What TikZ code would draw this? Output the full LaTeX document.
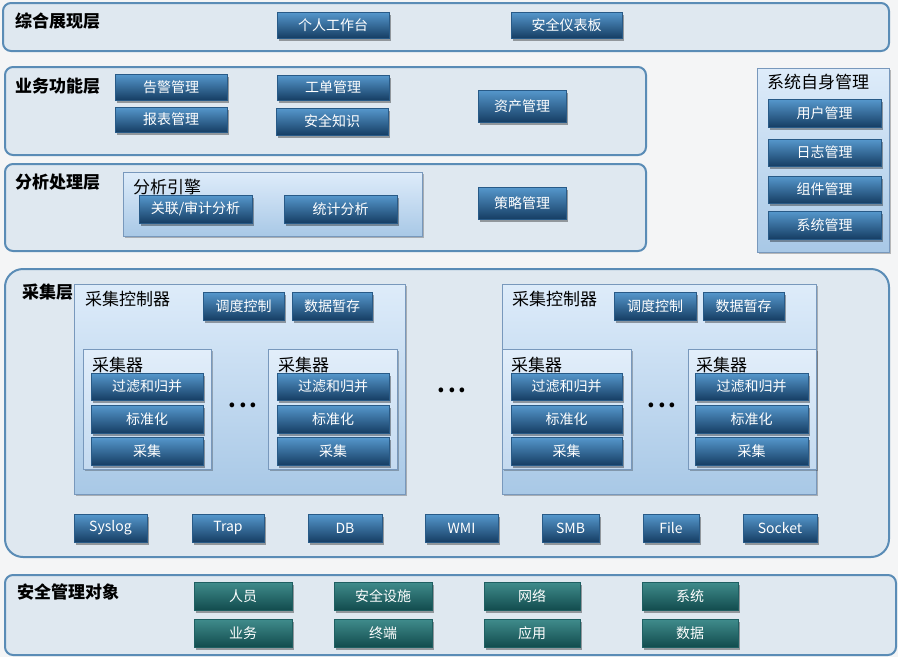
\documentclass[tikz,border=0pt]{standalone}
\usepackage{fontspec}
\setmainfont{Noto Sans CJK SC}
\usetikzlibrary{shadows}
\definecolor{bgc}{RGB}{244,245,246}
\definecolor{btntop}{RGB}{86,152,205}
\definecolor{btnbot}{RGB}{22,62,100}
\definecolor{btnedge}{RGB}{40,90,135}
\definecolor{teltop}{RGB}{64,140,140}
\definecolor{telbot}{RGB}{18,76,78}
\definecolor{teledge}{RGB}{30,95,98}
\definecolor{layerfill}{RGB}{223,232,240}
\definecolor{layeredge}{RGB}{90,140,182}
\definecolor{ctrtop}{RGB}{222,236,250}
\definecolor{ctrbot}{RGB}{168,200,230}
\definecolor{ctredge}{RGB}{120,152,188}
\definecolor{coltop}{RGB}{226,238,250}
\definecolor{colbot}{RGB}{196,218,240}
\newcommand\mkbox[7]{%
  \pgfmathsetmacro\mkcx{(#3+#5)/2}%
  \pgfmathsetmacro\mkcy{(#4+#6)/2}%
  \pgfmathsetmacro\mkww{#5-#3}%
  \pgfmathsetmacro\mkhh{#6-#4}%
  \node[#1, minimum width=\mkww pt, minimum height=\mkhh pt] (#2) at (\mkcx,\mkcy) {#7};}
\tikzset{
  base/.style={rectangle, inner sep=0pt, outer sep=0pt},
  btn/.style={base, top color=btntop, bottom color=btnbot, draw=btnedge, line width=0.4pt,
    text=white, font=\fontsize{14}{16}\selectfont,
    drop shadow={shadow xshift=1.5pt, shadow yshift=-2.5pt, opacity=0.35, fill=black}},
  tbtn/.style={btn, top color=teltop, bottom color=telbot, draw=teledge},
  layer/.style={base, fill=layerfill, draw=layeredge, line width=2pt, rounded corners=8pt},
  ctr/.style={base, top color=ctrtop, bottom color=ctrbot, draw=ctredge, line width=0.7pt,
    drop shadow={shadow xshift=1.5pt, shadow yshift=-2pt, opacity=0.25, fill=black}},
  coll/.style={ctr, top color=coltop, bottom color=colbot},
  title/.style={anchor=west, inner sep=0pt, font=\fontsize{17}{19}\selectfont\bfseries},
  lab/.style={anchor=west, inner sep=0pt, font=\fontsize{17}{19}\selectfont},
  dots/.style={inner sep=0pt, font=\fontsize{22}{22}\selectfont\bfseries},
}
\begin{document}
\begin{tikzpicture}[x=1pt,y=-1pt]
\fill[bgc] (0,0) rectangle (898,657);
\useasboundingbox (0,0) rectangle (898,657);
% layers
\mkbox{layer}{L1}{3}{3}{889}{51}{}
\mkbox{layer}{L2}{5}{67}{646}{155}{}
\mkbox{layer}{L3}{5}{164}{646}{251}{}
\mkbox{layer,rounded corners=18pt}{L4}{5}{269}{889}{557}{}
\mkbox{layer}{L5}{5}{575}{896}{655}{}
% titles
\node[title] (t1) at (15,21) {综合展现层};
\node[title] (t2) at (15,86) {业务功能层};
\node[title] (t3) at (15,182) {分析处理层};
\node[title] (t4) at (22,292) {采集层};
\node[title] (t5) at (17,592) {安全管理对象};
% layer 1
\mkbox{btn}{grt}{277}{12}{389}{38}{个人工作台}
\mkbox{btn}{aqyb}{511}{12}{622}{38}{安全仪表板}
% layer 2
\mkbox{btn}{gj}{115}{74}{227}{100}{告警管理}
\mkbox{btn}{bb}{115}{107}{227}{132}{报表管理}
\mkbox{btn}{gd}{277}{75}{389}{100}{工单管理}
\mkbox{btn}{aqzs}{276}{108}{388}{135}{安全知识}
\mkbox{btn}{zc}{478}{90}{566}{122}{资产管理}
% layer 3
\mkbox{ctr}{fxyq}{123}{172}{422}{236}{}
\node[lab] (fxyqt) at (133,187) {分析引擎};
\mkbox{btn}{glsj}{139}{195}{252}{223}{关联/审计分析}
\mkbox{btn}{tjfx}{284}{195}{397}{223}{统计分析}
\mkbox{btn}{clgl}{478}{187}{566}{219}{策略管理}
% system panel
\mkbox{ctr}{sys}{757}{68}{889}{252}{}
\node[lab] (syst) at (767,82) {系统自身管理};
\mkbox{btn}{yh}{768}{99}{881}{127}{用户管理}
\mkbox{btn}{rz}{768}{139}{881}{166}{日志管理}
\mkbox{btn}{zj}{768}{176}{881}{203}{组件管理}
\mkbox{btn}{xtgl}{768}{211}{881}{239}{系统管理}
% controller 1
\mkbox{ctr}{kz1}{74}{284}{405}{494}{}
\node[lab] (kz1t) at (85,299) {采集控制器};
\mkbox{btn}{dd1}{203}{292}{284}{320}{调度控制}
\mkbox{btn}{zc1}{292}{292}{372}{320}{数据暂存}
\mkbox{coll}{c1}{83}{349}{211}{469}{}
\node[lab] (c1t) at (92,365) {采集器};
\mkbox{btn}{c1a}{91}{373}{203}{400}{过滤和归并}
\mkbox{btn}{c1b}{91}{405}{203}{433}{标准化}
\mkbox{btn}{c1c}{91}{437}{203}{465}{采集}
\node[dots] (d1) at (243,405) {.\kern3pt.\kern3pt.};
\mkbox{coll}{c2}{268}{349}{397}{469}{}
\node[lab] (c2t) at (278,365) {采集器};
\mkbox{btn}{c2a}{277}{373}{389}{400}{过滤和归并}
\mkbox{btn}{c2b}{277}{405}{389}{433}{标准化}
\mkbox{btn}{c2c}{277}{437}{389}{465}{采集}
% middle dots
\node[dots] (dm) at (452,390) {.\kern3pt.\kern3pt.};
% controller 2
\mkbox{ctr}{kz2}{502}{284}{816}{494}{}
\node[lab] (kz2t) at (512,299) {采集控制器};
\mkbox{btn}{dd2}{614}{292}{696}{320}{调度控制}
\mkbox{btn}{zc2}{703}{292}{784}{320}{数据暂存}
\mkbox{coll}{c3}{502}{349}{631}{469}{}
\node[lab] (c3t) at (511,365) {采集器};
\mkbox{btn}{c3a}{511}{373}{622}{400}{过滤和归并}
\mkbox{btn}{c3b}{511}{405}{622}{433}{标准化}
\mkbox{btn}{c3c}{511}{437}{622}{465}{采集}
\node[dots] (d2) at (662,405) {.\kern3pt.\kern3pt.};
\mkbox{coll}{c4}{688}{349}{816}{469}{}
\node[lab] (c4t) at (696,365) {采集器};
\mkbox{btn}{c4a}{695}{373}{808}{400}{过滤和归并}
\mkbox{btn}{c4b}{695}{405}{808}{433}{标准化}
\mkbox{btn}{c4c}{695}{437}{808}{465}{采集}
% protocols
\mkbox{btn}{syslog}{74}{514}{147}{542}{Syslog}
\mkbox{btn}{trap}{192}{514}{264}{542}{Trap}
\mkbox{btn}{db}{308}{514}{382}{542}{DB}
\mkbox{btn}{wmi}{425}{514}{498}{542}{WMI}
\mkbox{btn}{smb}{542}{514}{599}{542}{SMB}
\mkbox{btn}{file}{643}{514}{699}{542}{File}
\mkbox{btn}{socket}{743}{514}{817}{542}{Socket}
% objects
\mkbox{tbtn}{ry}{194}{582}{292}{610}{人员}
\mkbox{tbtn}{yw}{194}{619}{292}{647}{业务}
\mkbox{tbtn}{aqss}{334}{582}{432}{610}{安全设施}
\mkbox{tbtn}{zd}{334}{619}{432}{647}{终端}
\mkbox{tbtn}{wl}{484}{582}{580}{610}{网络}
\mkbox{tbtn}{yy}{484}{619}{580}{647}{应用}
\mkbox{tbtn}{xt}{642}{582}{738}{610}{系统}
\mkbox{tbtn}{sj}{642}{619}{738}{647}{数据}
\end{tikzpicture}
\end{document}
